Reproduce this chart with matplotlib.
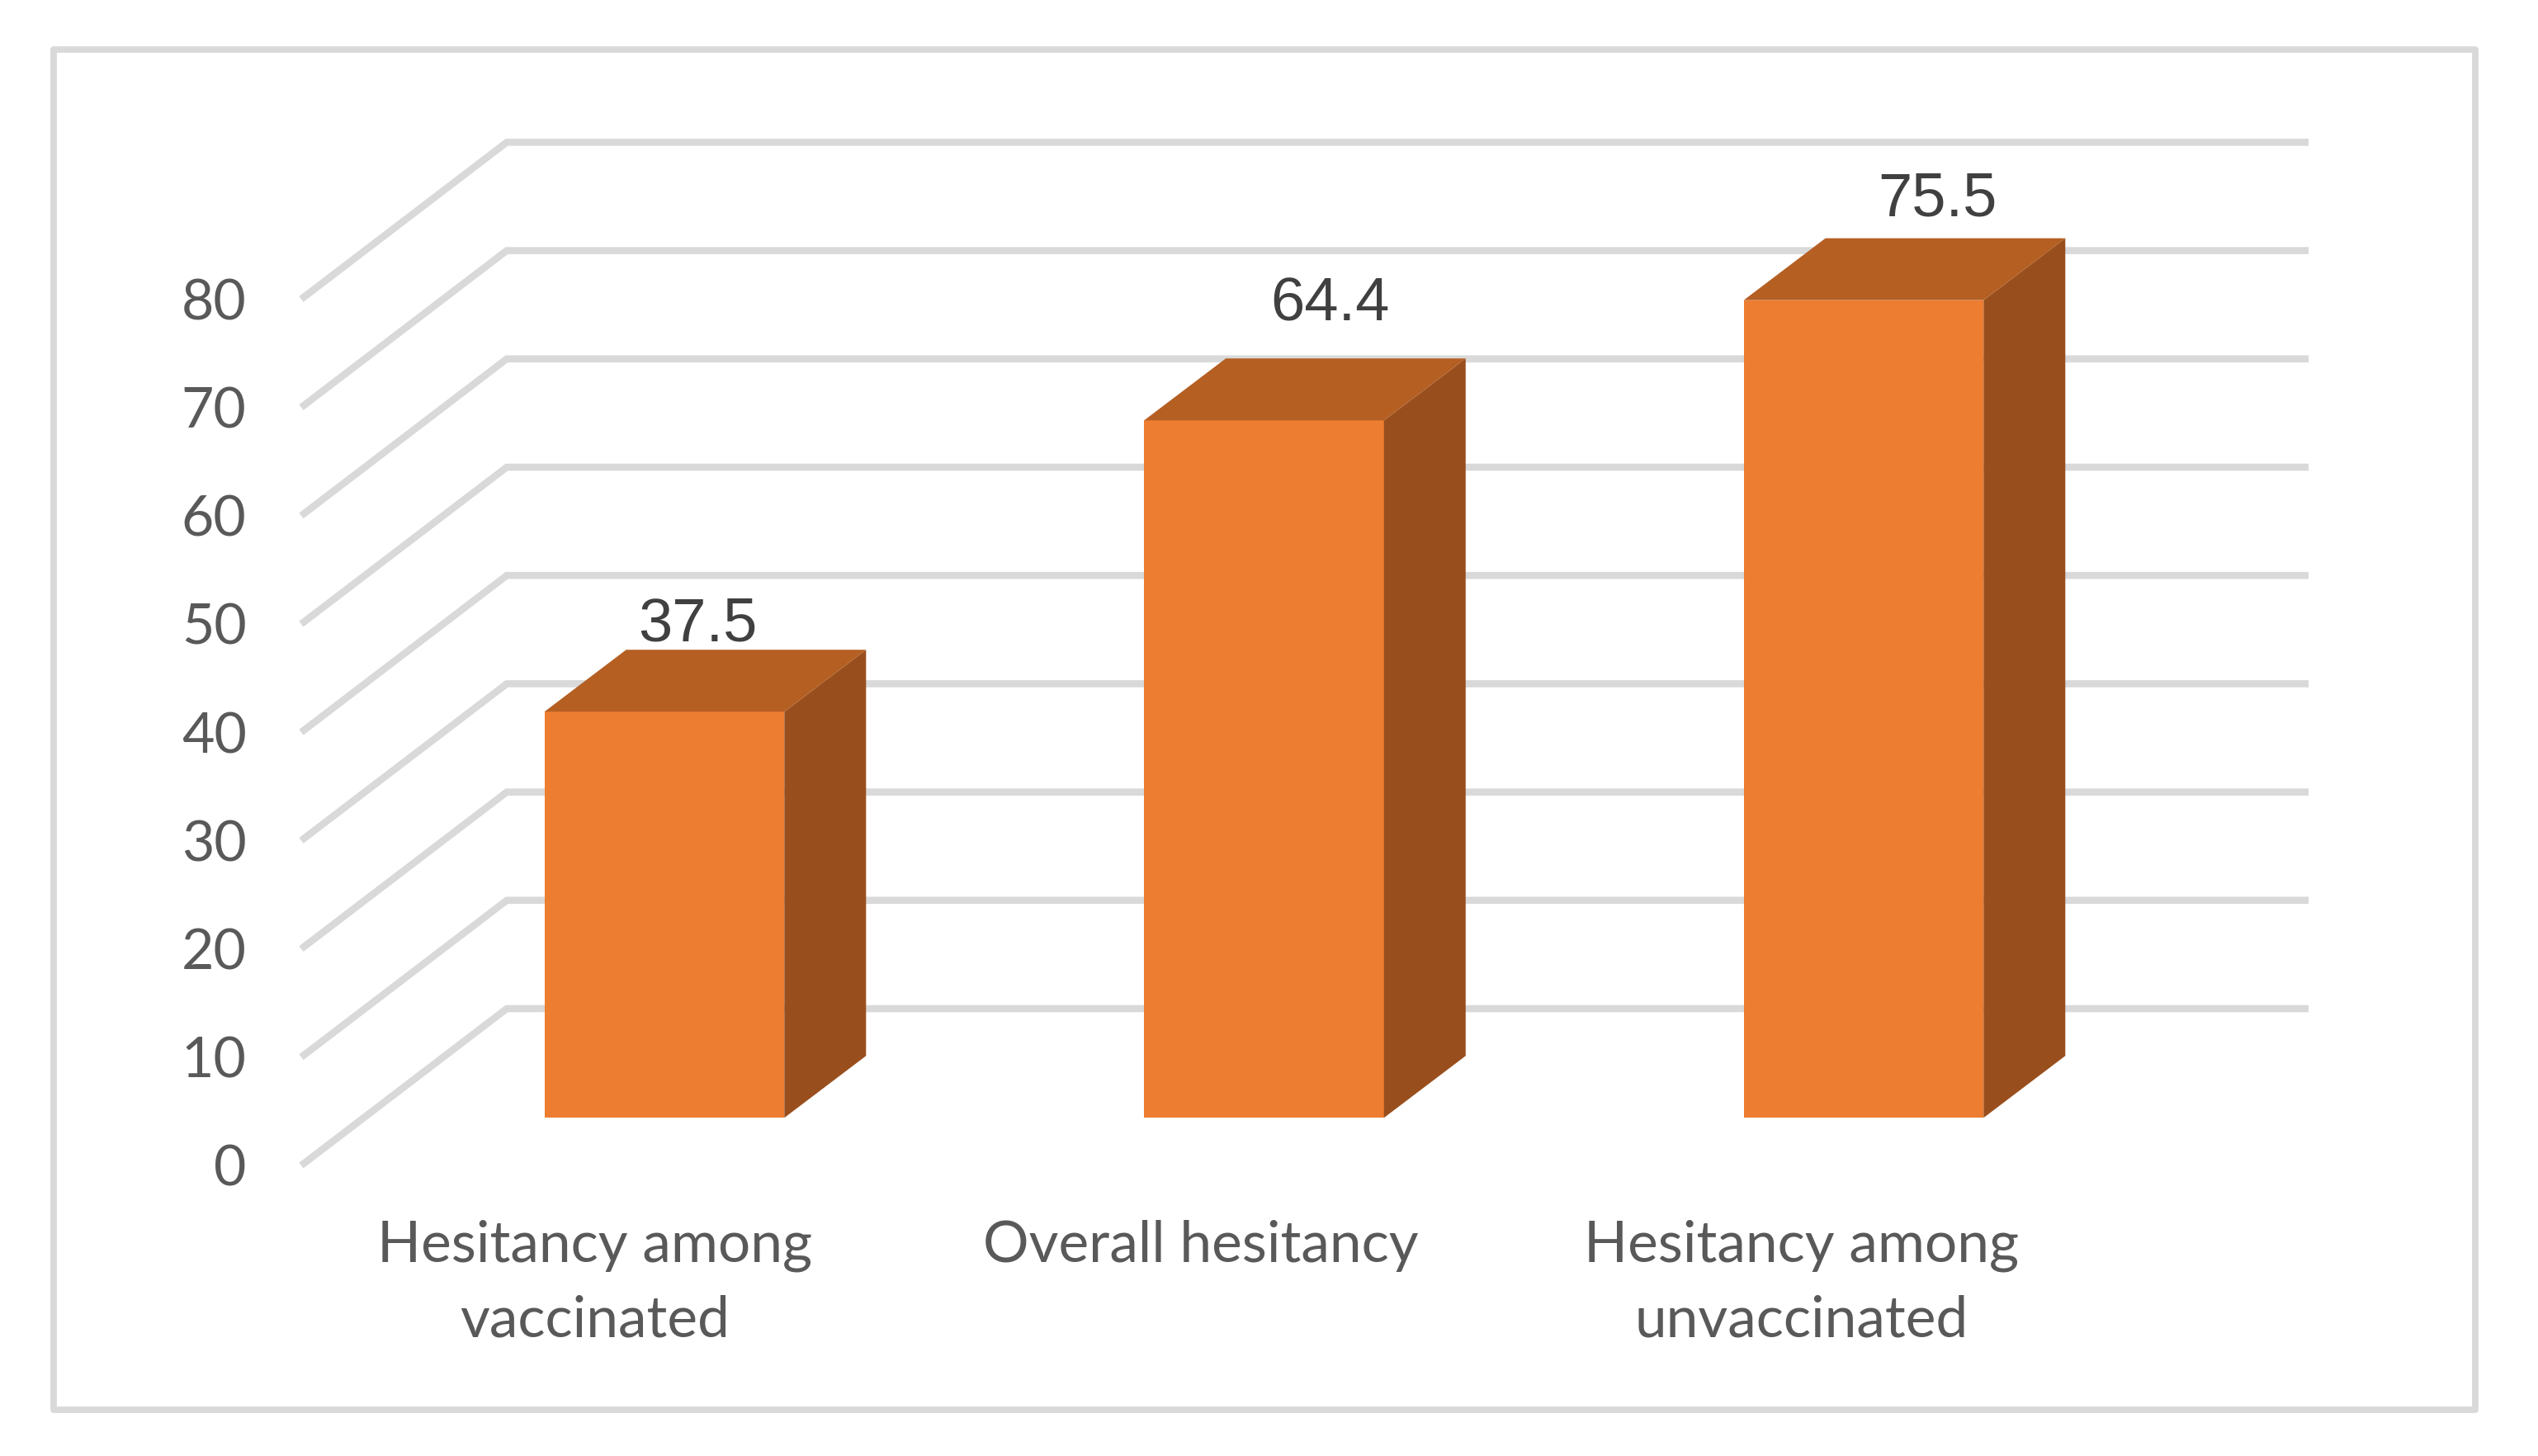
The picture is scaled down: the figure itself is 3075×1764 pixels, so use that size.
import matplotlib
matplotlib.use('Agg')
import matplotlib.pyplot as plt
from matplotlib.patches import Rectangle

# Data
categories = ['Hesitancy among\nvaccinated', 'Overall hesitancy', 'Hesitancy among\nunvaccinated']
values = [37.5, 64.4, 75.5]
value_labels = ['37.5', '64.4', '75.5']
ticks = [0, 10, 20, 30, 40, 50, 60, 70, 80]

# Oblique projection, in data units (x = category, y = value)
WALL_DX, WALL_DY = 0.3427, 14.48
BAR_DX, BAR_DY = 0.1363, 5.72
BAR_BASE = 4.4
BAR_WIDTH = 0.4
GRID_LEFT, GRID_RIGHT = -0.6056, 2.742

plt.rcParams['font.family'] = ['Lato', 'DejaVu Sans']

W, H = 3075, 1764
fig = plt.figure(figsize=(W / 100, H / 100), dpi=100, facecolor='white')
ax = fig.add_axes([0, 0, 1, 1])
ax.set_xlim(-1.108, 3.1246)
ax.set_ylim(-26.83, 107.62)
ax.axis('off')

# Chart frame
frame = Rectangle((64.5 / W, 1 - 1708 / H), (2999 - 64.5) / W, (1708 - 60) / H,
                  transform=fig.transFigure, fill=False, ec='#D9D9D9', lw=5.6,
                  joinstyle='round')
ax.add_patch(frame)

# Gridlines: side wall then back wall
for t in ticks:
    ax.plot([GRID_LEFT, GRID_LEFT + WALL_DX, GRID_RIGHT], [t, t + WALL_DY, t + WALL_DY],
            color='#D9D9D9', lw=6.2, solid_joinstyle='miter', solid_capstyle='butt', zorder=1)
    ax.text(-0.697, t, str(t), ha='right', va='center_baseline', fontsize=49, color='#595959')

# Bars: front faces through bar(), side and top as polygons
xs = list(range(len(values)))
ax.bar(xs, values, width=BAR_WIDTH, bottom=BAR_BASE, color='#ED7D31', zorder=3)
for x, v in zip(xs, values):
    right = x + BAR_WIDTH / 2
    left = x - BAR_WIDTH / 2
    top = BAR_BASE + v
    ax.fill([right, right + BAR_DX, right + BAR_DX, right],
            [BAR_BASE, BAR_BASE + BAR_DY, top + BAR_DY, top], color='#994F1D', lw=0, zorder=3)
    ax.fill([left, left + BAR_DX, right + BAR_DX, right],
            [top, top + BAR_DY, top + BAR_DY, top], color='#B55F23', lw=0, zorder=3)

# Value labels sit at hand-placed offsets, as in the original
label_dx = [40, 80, 89]
label_dy = [105, 140, 122]
for x, v, lab, dx, dy in zip(xs, values, value_labels, label_dx, label_dy):
    ax.annotate(lab, (x, BAR_BASE + v), xytext=(dx * 0.72, dy * 0.72), textcoords='offset points',
                ha='center', va='center', fontsize=53.5, color='#404040',
                family=['Liberation Sans', 'DejaVu Sans'], zorder=4)

# Category labels
label_x = [-0.116, -0.105, -0.104]
for x, lab, lx in zip(xs, categories, label_x):
    ax.text(x + lx, -5.0, lab, ha='center', va='top', fontsize=50, color='#595959',
            linespacing=1.53)

fig.savefig('out.png', dpi=100)
